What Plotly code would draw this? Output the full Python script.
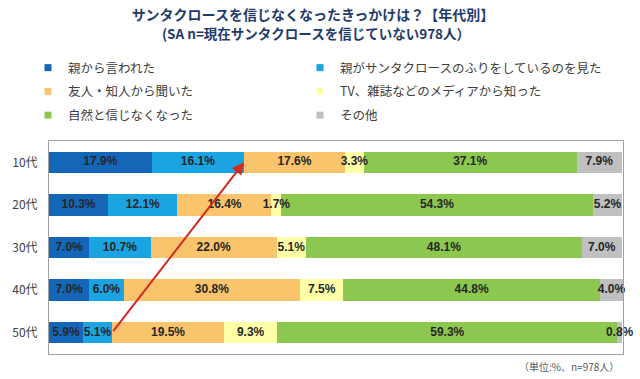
import plotly.graph_objects as go

ages = ["10代", "20代", "30代", "40代", "50代"]
series_names = [
    "親から言われた",
    "親がサンタクロースのふりをしているのを見た",
    "友人・知人から聞いた",
    "TV、雑誌などのメディアから知った",
    "自然と信じなくなった",
    "その他",
]
parent_told = [17.9, 10.3, 7.0, 7.0, 5.9]
saw_parent = [16.1, 12.1, 10.7, 6.0, 5.1]
friends = [17.6, 16.4, 22.0, 30.8, 19.5]
media = [3.3, 1.7, 5.1, 7.5, 9.3]
naturally = [37.1, 54.3, 48.1, 44.8, 59.3]
other = [7.9, 5.2, 7.0, 4.0, 0.8]
values = [parent_told, saw_parent, friends, media, naturally, other]
colors = ["#1467b8", "#1ba4e2", "#fac46c", "#ffffa8", "#8cc850", "#c0c0c0"]
legend_ids = ["legend", "legend2", "legend", "legend2", "legend", "legend2"]

totals = [sum(v[i] for v in values) for i in range(len(ages))]
x_max = max(totals)

fig = go.Figure()
for name, vals, col in zip(series_names, values, colors):
    fig.add_trace(go.Bar(
        y=ages, x=vals, orientation="h", name=name,
        marker=dict(color=col, line=dict(width=0)),
        textposition="none", showlegend=False, hoverinfo="skip",
    ))

# data labels on top of all bars, centred in each stacked segment
starts = [0.0] * len(ages)
for name, vals in zip(series_names, values):
    centers = [s + v / 2 for s, v in zip(starts, vals)]
    fig.add_trace(go.Scatter(
        x=centers, y=ages, mode="text", text=[f"{v:.1f}%" for v in vals],
        textposition="middle center", cliponaxis=False,
        textfont=dict(family="Liberation Sans", size=12, color="#262626", weight="bold"),
        showlegend=False, hoverinfo="skip",
    ))
    starts = [s + v for s, v in zip(starts, vals)]

# legend entries (small square symbols)
for i, (name, col, lg) in enumerate(zip(series_names, colors, legend_ids)):
    fig.add_trace(go.Scatter(
        x=[None], y=[None], mode="markers", name=name,
        marker=dict(symbol="square", size=7, color=col),
        legend=lg, legendgroup=f"g{i}", showlegend=True,
    ))

# arrow from 50代 (parent-related total) to 10代 (parent-related total)
head_x = parent_told[0] + saw_parent[0]
tail_x = parent_told[4] + saw_parent[4]
fig.add_annotation(
    x=head_x, y=ages[0], ax=tail_x, ay=ages[4], xref="x", yref="y",
    axref="x", ayref="y", text="", showarrow=True,
    arrowhead=2, arrowsize=1.2, arrowwidth=2, arrowcolor="#d42a20",
)

legend_common = dict(
    font=dict(family="Noto Sans CJK JP", size=12.5, color="#404040"),
    bgcolor="rgba(0,0,0,0)", borderwidth=0, tracegroupgap=4.5,
    orientation="v", xanchor="left", yanchor="top", itemsizing="trace",
)

fig.update_layout(
    width=640, height=379,
    margin=dict(l=49, r=17, t=141, b=25, autoexpand=False),
    paper_bgcolor="white", plot_bgcolor="white",
    barmode="stack", bargap=0.5,
    title=dict(
        text="<b>サンタクロースを信じなくなったきっかけは？【年代別】</b>",
        x=313 / 640, xanchor="center", y=1 - 15 / 379, yanchor="middle",
        font=dict(family="Noto Sans CJK JP", size=14, color="#1f3b6b"),
    ),
    legend=dict(x=(28 - 49) / 574, y=1 + (141 - 53) / 213, **legend_common),
    legend2=dict(x=(300 - 49) / 574, y=1 + (141 - 53) / 213, **legend_common),
    xaxis=dict(range=[0, x_max], showticklabels=False, showgrid=False, zeroline=False,
               showline=True, mirror=True, linecolor="#a0a0a0", linewidth=1, fixedrange=True),
    yaxis=dict(categoryorder="array", categoryarray=ages, autorange="reversed",
               showgrid=False, showline=True, mirror=True, linecolor="#a0a0a0", linewidth=1,
               ticks="", ticklabelstandoff=8,
               tickfont=dict(family="Noto Sans CJK JP", size=12, color="#404040")),
)

fig.add_annotation(
    text="<b>(SA n=現在サンタクロースを信じていない978人）</b>",
    xref="paper", yref="paper", x=(316 - 49) / 574, y=1 + (141 - 33) / 213,
    xanchor="center", yanchor="middle", showarrow=False,
    font=dict(family="Noto Sans CJK JP", size=13.5, color="#1f3b6b"),
)
fig.add_annotation(
    text="（単位:%、n=978人）",
    xref="paper", yref="paper", x=(621 - 49) / 574, y=-(366 - 354) / 213,
    xanchor="right", yanchor="middle", showarrow=False,
    font=dict(family="Noto Sans CJK JP", size=10, color="#595959"),
)

fig.write_html("out.html", config={"displayModeBar": False},
               post_script="document.body.style.margin='0';")
